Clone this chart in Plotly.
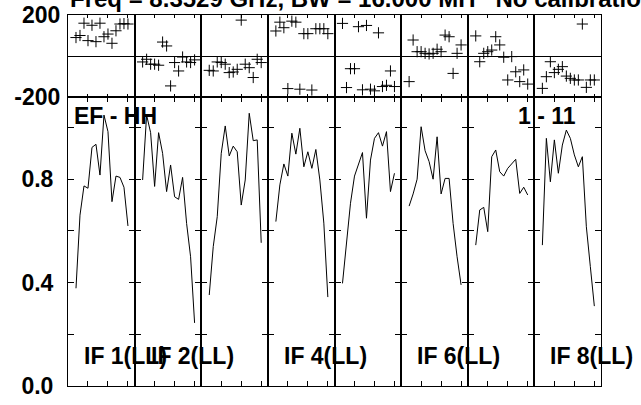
import plotly.graph_objects as go
from plotly.subplots import make_subplots

# channels plotted in every IF panel
channels = [2, 3, 4, 5, 6, 7, 8, 9, 10, 11, 12, 13, 14, 15]

# phase (degrees), one list per IF
phase_if1 = [90, 100, 160, 75, 150, 70, 160, 94, 107, 62, 123, 156, 158, 156]
phase_if2 = [-29, -16, -40, -40, -45, 68, 49, -146, -32, -73, -5, -29, -32, -19]
phase_if3 = [-70, -73, -29, -32, -40, -81, -78, -65, 175, -40, -57, -105, -16, -32]
phase_if4 = [122, 165, 138, -159, 170, 165, -162, 109, 109, -166, 133, 133, 133, 109]
phase_if5 = [159, -154, -62, -62, 143, -165, 149, -162, -170, 113, -149, -143, -73, -149]
phase_if6 = [-125, 78, 21, 21, 13, 10, 13, 33, 21, 102, 94, -85, 13, 54]
phase_if7 = [98, -28, 13, 21, 29, 94, 54, -6, -117, -3, -77, -125, -68, -137]
phase_if8 = [-158, -101, -28, -81, -65, -52, -98, -109, -117, -117, 156, -153, -117, -117]

# amplitude, one list per IF
amp_if1 = [0.378, 0.661, 0.774, 0.765, 0.923, 0.935, 0.816, 1.048, 0.984, 0.713, 0.812, 0.807, 0.769, 0.619]
amp_if2 = [0.797, 1.048, 0.98, 0.772, 0.98, 0.90, 0.752, 0.855, 0.732, 0.722, 0.807, 0.629, 0.50, 0.244]
amp_if3 = [0.352, 0.539, 0.655, 0.90, 1.006, 0.89, 0.928, 0.906, 0.70, 0.797, 1.055, 0.949, 0.952, 0.554]
amp_if4 = [0.636, 0.778, 0.859, 0.812, 0.978, 0.897, 0.997, 0.848, 0.906, 0.842, 0.915, 0.797, 0.63, 0.344]
amp_if5 = [0.397, 0.552, 0.707, 0.812, 0.855, 0.903, 0.649, 0.874, 0.958, 0.98, 0.928, 0.984, 0.752, 0.823]
amp_if6 = [0.696, 0.743, 0.80, 1.003, 0.91, 0.868, 0.80, 0.964, 0.743, 0.803, 0.803, 0.629, 0.50, 0.391]
amp_if7 = [0.545, 0.681, 0.691, 0.597, 0.887, 0.913, 0.829, 0.812, 0.842, 0.861, 0.877, 0.745, 0.769, 0.739]
amp_if8 = [0.545, 0.958, 0.79, 0.952, 0.823, 0.932, 0.99, 0.958, 0.894, 0.848, 0.887, 0.616, 0.462, 0.309]

if_labels = ["IF 1(LL)", "IF 2(LL)", "", "IF 4(LL)", "", "IF 6(LL)", "", "IF 8(LL)"]
amp_ticks = [0.0, 0.2, 0.4, 0.6, 0.8, 1.0]
amp_ticktext = ["0.0", "", "0.4", "", "0.8", ""]

phases = [phase_if1, phase_if2, phase_if3, phase_if4, phase_if5, phase_if6, phase_if7, phase_if8]
amps = [amp_if1, amp_if2, amp_if3, amp_if4, amp_if5, amp_if6, amp_if7, amp_if8]

FONT = dict(family="Liberation Sans, Arial, sans-serif", size=23, color="black", weight="bold")

fig = make_subplots(rows=2, cols=8, horizontal_spacing=0, vertical_spacing=0,
                    row_heights=[0.221, 0.779])

for i in range(8):
    col = i + 1
    fig.add_trace(go.Scatter(x=channels, y=phases[i], mode="markers",
                             marker=dict(symbol="cross-thin", size=8,
                                         line=dict(color="black", width=1)),
                             showlegend=False), row=1, col=col)
    fig.add_trace(go.Scatter(x=channels, y=amps[i], mode="lines",
                             line=dict(color="black", width=1),
                             showlegend=False), row=2, col=col)

    fig.update_xaxes(range=[0, 16.667], tickvals=[5, 10, 15], showticklabels=False,
                     ticks="inside", ticklen=3, tickcolor="black", showline=True,
                     linecolor="black", linewidth=1, mirror="ticks", showgrid=False,
                     zeroline=False, row=1, col=col)
    fig.update_xaxes(range=[0, 16.667], tickvals=[5, 10, 15], showticklabels=False,
                     ticks="inside", ticklen=5, tickcolor="black", showline=True,
                     linecolor="black", linewidth=1, mirror="ticks", showgrid=False,
                     zeroline=False, row=2, col=col)
    fig.update_yaxes(range=[-200, 200], tickvals=[-200, 200], ticktext=["-200", "200"],
                     ticks="", showticklabels=(col == 1), tickfont=FONT,
                     ticklabelstandoff=2, ticklabeloverflow="allow", showline=True,
                     linecolor="black", linewidth=1, mirror=True, showgrid=False,
                     zeroline=True, zerolinecolor="black", zerolinewidth=1, row=1, col=col)
    fig.update_yaxes(range=[0, 1.118], tickvals=amp_ticks, ticktext=amp_ticktext,
                     ticks="inside", ticklen=6, tickcolor="black",
                     showticklabels=(col == 1), tickfont=FONT, ticklabelstandoff=9,
                     ticklabeloverflow="allow", showline=True, linecolor="black",
                     linewidth=1, mirror="ticks", showgrid=False, zeroline=False,
                     row=2, col=col)

    if if_labels[i]:
        fig.add_annotation(text=if_labels[i], xref=f"x{col + 8} domain", yref=f"y{col + 8}",
                           x=0.21, y=0.116, xanchor="left", yanchor="middle",
                           showarrow=False, font=FONT)

fig.add_annotation(text="EF - HH", xref="x9 domain", yref="y9", x=0.06, y=1.043,
                   xanchor="left", yanchor="middle", showarrow=False, font=FONT)
fig.add_annotation(text="1 - 11", xref="x15 domain", yref="y15", x=0.72, y=1.043,
                   xanchor="left", yanchor="middle", showarrow=False, font=FONT)
fig.add_annotation(text="Freq = 8.3529 GHz, BW = 16.000 MH\u00a0\u00a0\u00a0No calibration",
                   xref="paper", yref="paper", x=0, y=1.044, xanchor="left", yanchor="middle",
                   showarrow=False, font=dict(FONT, size=24))

fig.update_layout(width=641, height=405,
                  margin=dict(l=68, r=40, t=15, b=19, autoexpand=False),
                  paper_bgcolor="white", plot_bgcolor="white", showlegend=False)

# drop the default body margin so the figure sits at the window's corner
fig.write_html("out.html", config={"displayModeBar": False},
               post_script="document.body.style.margin = '0';")
